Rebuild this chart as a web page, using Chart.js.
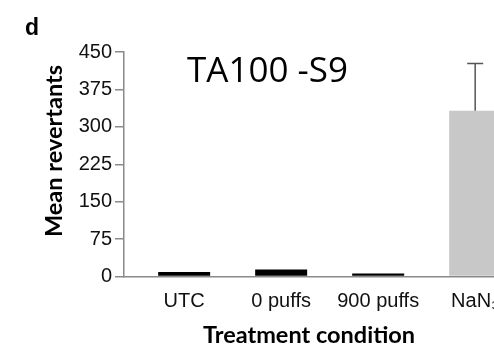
<!DOCTYPE html>
<html>
<head>
<meta charset="utf-8">
<script src="https://cdn.jsdelivr.net/npm/chart.js@4.4.1/dist/chart.umd.min.js"></script>
<style>
  html, body { margin: 0; padding: 0; background: #fff; overflow: hidden; }
  canvas { display: block; }
</style>
</head>
<body>
<canvas id="c" width="494" height="345"></canvas>
<script>
const categories = ['UTC', '0 puffs', '900 puffs', 'NaN\u2083'];
const meanRevertants = [9, 14, 6, 332];
const errorUpper = [0, 0, 0, 95];
const yTicks = [0, 75, 150, 225, 300, 375, 450];
const barColors = ['#000000', '#000000', '#000000', '#c8c8c8'];
const panelLabel = 'd';
const chartTitle = 'TA100 -S9';
const yTitle = 'Mean revertants';
const xTitle = 'Treatment condition';

const AXIS_COLOR = '#8a8a8a';

const errorBarPlugin = {
  id: 'errorBars',
  afterDatasetsDraw(chart) {
    const meta = chart.getDatasetMeta(0);
    const y = chart.scales.y;
    const ctx = chart.ctx;
    ctx.save();
    ctx.strokeStyle = '#555555';
    ctx.lineWidth = 1.5;
    meta.data.forEach((bar, i) => {
      const e = errorUpper[i];
      if (!e) return;
      const yb = y.getPixelForValue(meanRevertants[i]);
      const yt = y.getPixelForValue(meanRevertants[i] + e);
      ctx.beginPath();
      ctx.moveTo(bar.x, yb);
      ctx.lineTo(bar.x, yt);
      ctx.moveTo(bar.x - 8, yt);
      ctx.lineTo(bar.x + 8, yt);
      ctx.stroke();
    });
    ctx.restore();
  }
};

const textPlugin = {
  id: 'extraText',
  afterDraw(chart) {
    const ctx = chart.ctx;
    ctx.save();
    ctx.fillStyle = '#000';
    ctx.textBaseline = 'alphabetic';
    ctx.textAlign = 'left';
    ctx.font = 'bold 23px "Liberation Sans", Arial, sans-serif';
    ctx.fillText(panelLabel, 25, 35);
    ctx.font = '35px "Open Sans", sans-serif';
    ctx.fillText(chartTitle, 187, 82);
    ctx.translate(54, 151);
    ctx.rotate(-Math.PI / 2);
    ctx.textAlign = 'center';
    ctx.textBaseline = 'middle';
    ctx.font = 'bold 23.5px Lato, sans-serif';
    ctx.fillText(yTitle, 0, 0);
    ctx.restore();
  }
};

new Chart(document.getElementById('c'), {
  type: 'bar',
  data: {
    datasets: [{
      data: categories.map((c, i) => ({ x: i, y: meanRevertants[i] })),
      backgroundColor: barColors,
      borderWidth: 0,
      barPercentage: 1,
      categoryPercentage: 0.536
    }]
  },
  options: {
    responsive: false,
    animation: false,
    devicePixelRatio: 1,
    layout: { padding: { top: 52, left: 0, right: 0, bottom: 0 } },
    plugins: { legend: { display: false }, tooltip: { enabled: false } },
    scales: {
      x: {
        type: 'linear',
        offset: false,
        min: -0.62,
        max: 3.194,
        grid: { display: false, offset: false },
        border: { display: true, color: AXIS_COLOR, width: 1.5 },
        afterBuildTicks: s => { s.ticks = categories.map((c, i) => ({ value: i })); },
        ticks: {
          autoSkip: false,
          maxRotation: 0,
          color: '#111',
          padding: 5,
          font: { family: '"Liberation Sans", Arial, sans-serif', size: 20 },
          callback: v => categories[v]
        },
        title: {
          display: true,
          text: xTitle,
          color: '#000',
          font: { family: 'Lato, sans-serif', weight: 'bold', size: 23.5, lineHeight: 0.8 },
          padding: { top: 0, bottom: 0 }
        },
        afterFit: s => { s.height = 68.5; s.paddingLeft = 0; s.paddingRight = 0; }
      },
      y: {
        min: 0,
        max: 450,
        afterBuildTicks: s => { s.ticks = yTicks.map(v => ({ value: v })); },
        grid: { drawOnChartArea: false, drawTicks: true, tickLength: 9, color: AXIS_COLOR, lineWidth: 1.5 },
        border: { display: true, color: AXIS_COLOR, width: 1.5 },
        ticks: {
          color: '#111',
          padding: 3,
          font: { family: '"Liberation Sans", Arial, sans-serif', size: 20 }
        },
        afterFit: s => { s.width = 124; }
      }
    }
  },
  plugins: [errorBarPlugin, textPlugin]
});
</script>
</body>
</html>
